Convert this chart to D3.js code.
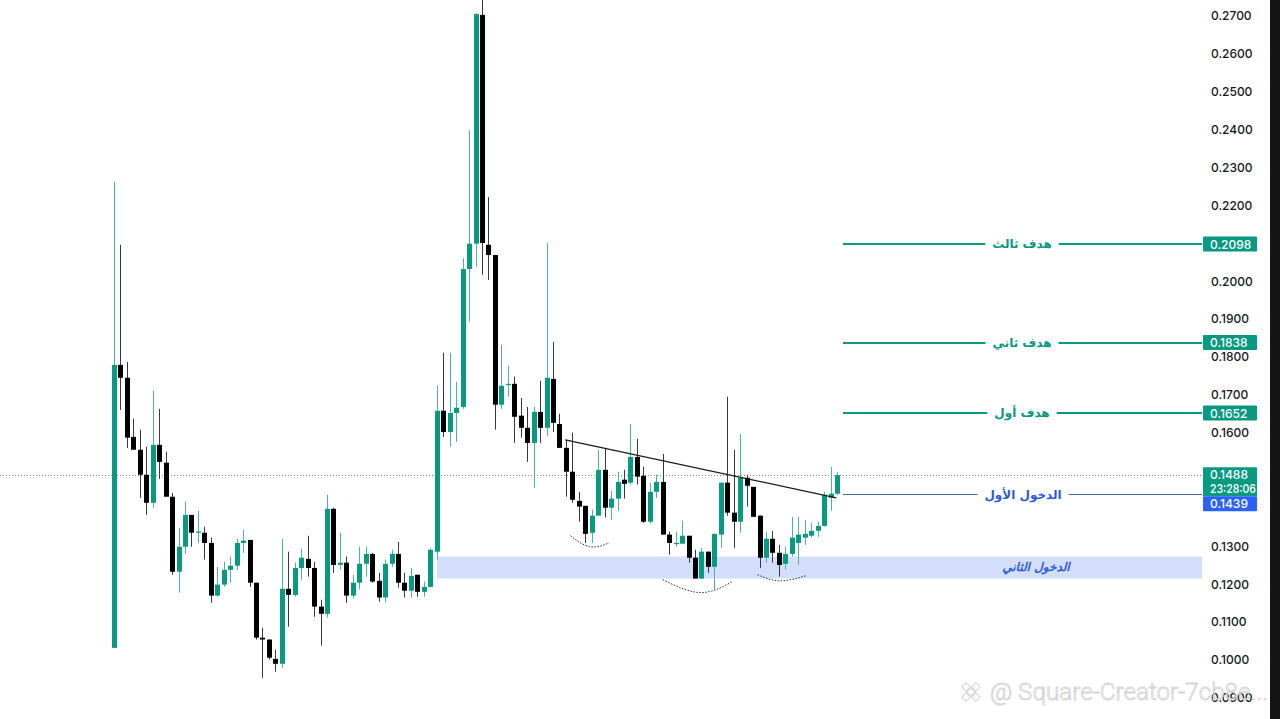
<!DOCTYPE html>
<html>
<head>
<meta charset="utf-8">
<script src="https://cdn.jsdelivr.net/npm/d3@7"></script>
<style>
  html, body { margin: 0; padding: 0; background: #ffffff; }
  svg { display: block; }
</style>
</head>
<body>
<svg id="chart" width="1280" height="719"></svg>
<script>
// ---- data (candles: open, high, low, close) ----
const opens  = [.1032,.1779,.1745,.1589,.1555,.1489,.1415,.1568,.1521,.1431,.1233,.1299,.1383,.1336,.1336,.1309,.1170,.1199,.1238,.1249,
                .1309,.1317,.1204,.1059,.1054,.1003,.0990,.1188,.1172,.1243,.1267,.1243,.1141,.1122,.1399,.1251,.1257,.1170,.1204,.1254,
                .1280,.1209,.1165,.1254,.1280,.1204,.1183,.1225,.1180,.1193,.1286,.1658,.1602,.1652,.1668,.2032,.2099,.2703,.2096,.2069,
                .1674,.1726,.1729,.1645,.1613,.1573,.1655,.1613,.1742,.1623,.1560,.1497,.1420,.1407,.1336,.1381,.1502,.1402,.1426,.1476,
                .1468,.1536,.1486,.1365,.1444,.1470,.1331,.1307,.1307,.1328,.1270,.1215,.1286,.1246,.1331,.1468,.1389,.1365,.1481,.1457,
                .1381,.1270,.1320,.1283,.1254,.1280,.1309,.1323,.1328,.1341,.1354,.1428,.1439];
const highs  = [.2262,.2096,.1787,.1637,.1608,.1563,.1711,.1663,.1550,.1441,.1349,.1418,.1383,.1394,.1352,.1323,.1246,.1259,.1273,.1320,
                .1344,.1317,.1204,.1085,.1054,.1027,.1320,.1286,.1257,.1294,.1328,.1259,.1159,.1436,.1402,.1336,.1273,.1225,.1299,.1299,
                .1283,.1230,.1265,.1291,.1312,.1230,.1243,.1225,.1207,.1296,.1724,.1811,.1811,.1734,.2061,.2399,.2708,.2760,.2222,.2069,
                .1832,.1777,.1748,.1692,.1668,.1668,.1737,.2101,.1840,.1650,.1581,.1600,.1444,.1407,.1397,.1555,.1560,.1447,.1497,.1502,
                .1623,.1584,.1510,.1468,.1489,.1544,.1339,.1339,.1368,.1328,.1291,.1296,.1286,.1333,.1468,.1695,.1555,.1597,.1489,.1457,
                .1381,.1339,.1341,.1304,.1299,.1378,.1378,.1370,.1362,.1365,.1444,.1510,.1497];
const lows   = [.1032,.1660,.1560,.1555,.1428,.1383,.1402,.1478,.1431,.1225,.1178,.1280,.1299,.1309,.1265,.1151,.1167,.1193,.1204,.1238,
                .1283,.1193,.1054,.0953,.1001,.0969,.0980,.1088,.1167,.1212,.1220,.1114,.1038,.1112,.1230,.1238,.1151,.1162,.1186,.1220,
                .1204,.1154,.1151,.1246,.1191,.1165,.1165,.1167,.1167,.1191,.1265,.1589,.1563,.1576,.1663,.1893,.2038,.2017,.2003,.1608,
                .1663,.1695,.1573,.1587,.1523,.1455,.1573,.1592,.1602,.1560,.1431,.1415,.1365,.1309,.1309,.1381,.1376,.1370,.1394,.1426,
                .1463,.1463,.1362,.1360,.1428,.1331,.1278,.1299,.1307,.1257,.1215,.1215,.1230,.1186,.1296,.1381,.1296,.1336,.1405,.1378,
                .1243,.1257,.1257,.1220,.1238,.1273,.1251,.1304,.1323,.1325,.1352,.1394,.1436];
const closes = [.1779,.1745,.1587,.1555,.1489,.1415,.1568,.1523,.1431,.1233,.1299,.1383,.1336,.1339,.1309,.1170,.1199,.1238,.1249,.1309,
                .1315,.1204,.1059,.1054,.1006,.0990,.1188,.1172,.1243,.1270,.1243,.1141,.1122,.1399,.1251,.1257,.1170,.1204,.1254,.1280,
                .1207,.1165,.1254,.1280,.1204,.1183,.1222,.1180,.1193,.1291,.1658,.1602,.1652,.1666,.2032,.2099,.2705,.2101,.2069,.1674,
                .1724,.1729,.1642,.1613,.1573,.1655,.1613,.1745,.1626,.1560,.1497,.1423,.1405,.1333,.1381,.1502,.1402,.1426,.1470,.1465,
                .1536,.1484,.1365,.1444,.1470,.1331,.1309,.1309,.1328,.1270,.1215,.1286,.1246,.1333,.1468,.1389,.1365,.1481,.1460,.1378,
                .1270,.1320,.1283,.1251,.1280,.1323,.1331,.1333,.1341,.1354,.1436,.1439,.1488];

const tickLabels = ["0.2700","0.2600","0.2500","0.2400","0.2300","0.2200","0.2100","0.2000","0.1900","0.1800",
                    "0.1700","0.1600","0.1500","0.1400","0.1300","0.1200","0.1100","0.1000","0.0900"];

const targetPrices = [0.2098, 0.1838, 0.1652];
const targetNames  = ["هدف ثالث", "هدف ثاني", "هدف أول"];
const entry1Price = 0.1439;
const entry1Name  = "الدخول الأول";
const entry2Zone  = [0.1273, 0.1215];
const entry2Name  = "الدخول الثاني";
const lastPrice   = 0.1488;
const countdown   = "23:28:06";
const watermark   = "@ Square-Creator-7cb8e...";
// trendline [candle index, price]
const trendLine = [[69.9, 0.1581], [111.9, 0.1428]];
// dotted arcs under the three bottoms [candle index, price]
const arcs = [
  [[70.7, 0.1328], [73.7, 0.1299], [76.7, 0.1309]],
  [[85.0, 0.1212], [90.8, 0.1178], [95.8, 0.1207]],
  [[99.7, 0.1225], [103.2, 0.1209], [107.3, 0.1223]]
];

// ---- drawing ----
const svg = d3.select("#chart");
const W = 1280, H = 719;
const axisX = 1202;
const NUMFONT = "Inter, 'Noto Sans', sans-serif";
const ARFONT = "'DejaVu Sans', sans-serif";

const x = d3.scaleLinear().domain([0, opens.length - 1]).range([114, 837]);
const y = d3.scaleLinear().domain([0.10, 0.27]).range([660, 16]);

const UP = "#089981", UPWICK = "#4fb3a0", DOWN = "#000000", DOWNWICK = "#3a3a3a";

const candles = opens.map((o, i) => ({ i, o, h: highs[i], l: lows[i], c: closes[i] }));

// entry zone rectangle
svg.append("rect")
  .attr("x", 437).attr("width", axisX - 437)
  .attr("y", y(entry2Zone[0])).attr("height", y(entry2Zone[1]) - y(entry2Zone[0]))
  .attr("fill", "#d2defb");

svg.append("text")
  .attr("x", 1036).attr("y", y((entry2Zone[0] + entry2Zone[1]) / 2) + 3)
  .attr("text-anchor", "middle")
  .attr("font-family", ARFONT).attr("font-size", 12).attr("font-weight", "bold")
  .attr("font-style", "italic")
  .attr("fill", "#2f5bd8").text(entry2Name);

// last price dotted line
svg.append("line")
  .attr("x1", 0).attr("x2", axisX)
  .attr("y1", Math.round(y(lastPrice)) + 0.5).attr("y2", Math.round(y(lastPrice)) + 0.5)
  .attr("stroke", "#7f8b8a").attr("stroke-width", 1).attr("stroke-dasharray", "1,2");

// candles
const g = svg.append("g");
g.selectAll("line.wick").data(candles).join("line")
  .attr("x1", d => Math.round(x(d.i)) + 0.5).attr("x2", d => Math.round(x(d.i)) + 0.5)
  .attr("y1", d => y(d.h)).attr("y2", d => y(d.l))
  .attr("stroke", d => d.c >= d.o ? UPWICK : DOWNWICK).attr("stroke-width", 1);
g.selectAll("rect.body").data(candles).join("rect")
  .attr("x", d => Math.round(x(d.i)) - 2)
  .attr("width", 5)
  .attr("y", d => y(Math.max(d.o, d.c)))
  .attr("height", d => Math.max(1.2, Math.abs(y(d.o) - y(d.c))))
  .attr("fill", d => d.c >= d.o ? UP : DOWN);

// trendline
svg.append("line")
  .attr("x1", x(trendLine[0][0])).attr("y1", y(trendLine[0][1]))
  .attr("x2", x(trendLine[1][0])).attr("y2", y(trendLine[1][1]))
  .attr("stroke", "#1b1b1b").attr("stroke-width", 1.2);

// arcs
const arcLine = d3.line().x(d => x(d[0])).y(d => y(d[1])).curve(d3.curveNatural);
arcs.forEach(a => {
  svg.append("path").attr("d", arcLine(a))
    .attr("fill", "none").attr("stroke", "#333").attr("stroke-width", 1)
    .attr("stroke-dasharray", "1.5,1.5");
});

// target lines
targetPrices.forEach((p, k) => {
  const yy = Math.round(y(p));
  svg.append("line").attr("x1", 843).attr("x2", axisX).attr("y1", yy).attr("y2", yy)
    .attr("stroke", UP).attr("stroke-width", 2);
  const bgr = svg.append("rect").attr("fill", "#ffffff");
  const t = svg.append("text")
    .attr("x", 1022).attr("y", yy + 4).attr("text-anchor", "middle")
    .attr("font-family", ARFONT).attr("font-size", 12).attr("font-weight", "bold")
    .attr("fill", UP).text(targetNames[k]);
  const bb = t.node().getBBox();
  bgr.attr("x", bb.x - 7).attr("y", yy - 5).attr("width", bb.width + 14).attr("height", 10);
});

// entry 1 line
{
  const yy = Math.round(y(entry1Price)) + 0.5;
  svg.append("line").attr("x1", 843).attr("x2", axisX).attr("y1", yy).attr("y2", yy)
    .attr("stroke", "#4a6690").attr("stroke-width", 1);
  const bgr = svg.append("rect").attr("fill", "#ffffff");
  const t = svg.append("text")
    .attr("x", 1023).attr("y", yy + 4).attr("text-anchor", "middle")
    .attr("font-family", ARFONT).attr("font-size", 12).attr("font-weight", "bold")
    .attr("fill", "#2f5bd8").text(entry1Name);
  const bb = t.node().getBBox();
  bgr.attr("x", bb.x - 7).attr("y", yy - 4).attr("width", bb.width + 14).attr("height", 8);
}

// right price axis (labels hidden under the live price boxes are skipped, as in the original)
const boxBands = [[y(lastPrice) - 8, y(lastPrice) + 36]];
targetPrices.forEach(p => boxBands.push([y(p) - 7.5, y(p) + 7.5]));
const visibleTicks = tickLabels.map(Number).filter(v => {
  const yy = y(v);
  return !boxBands.some(b => yy + 5 > b[0] && yy - 5 < b[1]);
});
const axis = d3.axisRight(y).tickValues(visibleTicks).tickSize(0).tickPadding(0)
  .tickFormat(d => tickLabels[tickLabels.map(Number).indexOf(d)]);
const ax = svg.append("g").attr("transform", `translate(${axisX + 9},0)`).call(axis);
ax.select(".domain").remove();
ax.selectAll("text")
  .attr("font-family", NUMFONT).attr("font-size", 12).attr("font-weight", 500)
  .attr("fill", "#131722");

// price boxes
function priceBox(color, yTop, h) {
  svg.append("rect").attr("x", axisX + 1).attr("y", yTop).attr("width", 54).attr("height", h)
    .attr("rx", 1).attr("fill", color);
}
function boxText(txt, yy) {
  svg.append("text").attr("x", axisX + 8).attr("y", yy)
    .attr("font-family", NUMFONT).attr("font-size", 12).attr("font-weight", 500)
    .attr("textLength", txt.length > 6 ? 46 : null)
    .attr("lengthAdjust", "spacingAndGlyphs")
    .attr("fill", "#ffffff").text(txt);
}
targetPrices.forEach(p => {
  const yy = y(p);
  priceBox(UP, yy - 7.5, 15);
  boxText(p.toFixed(4), yy + 4.5);
});
{
  const yy = y(lastPrice);
  priceBox(UP, yy - 8, 29);
  boxText(lastPrice.toFixed(4), yy + 4);
  boxText(countdown, yy + 18);
  const yb = yy + 21;
  priceBox("#2962ff", yb, 15);
  boxText(entry1Price.toFixed(4), yb + 12);
}

// watermark
const wm = svg.append("g").attr("opacity", 0.85);
wm.append("g").attr("transform", "translate(971,692) rotate(45)")
  .selectAll("rect").data([[-3,-3],[-10,-3],[4,-3],[-3,-10],[-3,4]]).join("rect")
  .attr("x", d => d[0]).attr("y", d => d[1]).attr("width", 6).attr("height", 6)
  .attr("fill", "none").attr("stroke", "#cfcfcf").attr("stroke-width", 1.1);
wm.append("text").attr("x", 990).attr("y", 700)
  .attr("font-family", "Roboto, 'Liberation Sans', sans-serif").attr("font-size", 23).attr("font-weight", 300)
  .attr("textLength", 278).attr("lengthAdjust", "spacingAndGlyphs")
  .attr("fill", "#ffffff").attr("stroke", "#cdcdcd").attr("stroke-width", 0.8)
  .text(watermark);

// right dark border
svg.append("rect").attr("x", 1270).attr("y", 0).attr("width", 10).attr("height", H).attr("fill", "#141414");
</script>
</body>
</html>
